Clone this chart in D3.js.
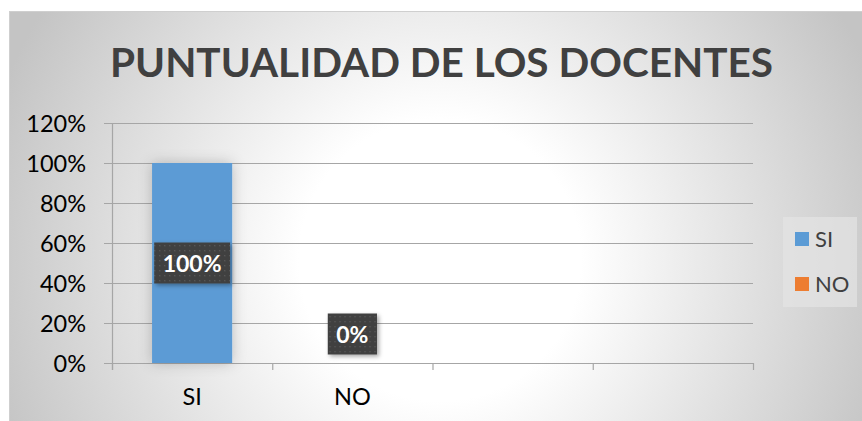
<!DOCTYPE html>
<html>
<head>
<meta charset="utf-8">
<script src="https://cdn.jsdelivr.net/npm/d3@7"></script>
<style>
  body { margin: 0; background: #fff; }
  svg { display: block; font-family: Lato, "Open Sans", sans-serif; }
</style>
</head>
<body>
<div id="chart"></div>
<script>
// chart data
var categories = ["SI", "NO", "", ""];
var values = [1, 0, null, null];
var legendNames = ["SI", "NO"];
var legendColors = ["#5b9bd5", "#ed7d31"];
var yTicks = [0, 0.2, 0.4, 0.6, 0.8, 1.0, 1.2];
var title = "PUNTUALIDAD DE LOS DOCENTES";

function init() {
    var w = 862;
    var h = 421;
    var plot = { left: 112, right: 753, top: 123, bottom: 363 };

    var svg = d3.select("#chart")
                .append("svg")
                .attr("width", w)
                .attr("height", h);

    var defs = svg.append("defs");

    // radial background like the office preset
    var grad = defs.append("radialGradient")
                   .attr("id", "bg")
                   .attr("gradientUnits", "userSpaceOnUse")
                   .attr("cx", 440).attr("cy", 260)
                   .attr("r", 470);
    grad.append("stop").attr("offset", "0").attr("stop-color", "#ffffff");
    grad.append("stop").attr("offset", "0.3").attr("stop-color", "#ffffff");
    grad.append("stop").attr("offset", "1").attr("stop-color", "#c4c4c4");

    // dotted pattern for the data label boxes
    var pat = defs.append("pattern")
                  .attr("id", "dots")
                  .attr("patternUnits", "userSpaceOnUse")
                  .attr("width", 5).attr("height", 5);
    pat.append("rect").attr("width", 5).attr("height", 5).attr("fill", "#404040");
    pat.append("rect").attr("x", 2).attr("y", 2).attr("width", 1.3).attr("height", 1.3).attr("fill", "#5a5a5a");

    var sh = defs.append("filter").attr("id", "shadow")
                 .attr("x", "-50%").attr("y", "-50%").attr("width", "200%").attr("height", "200%");
    sh.append("feDropShadow").attr("dx", 0).attr("dy", 0)
      .attr("stdDeviation", 7).attr("flood-color", "#000").attr("flood-opacity", 0.22);

    var lsh = defs.append("filter").attr("id", "lshadow")
                  .attr("x", "-30%").attr("y", "-30%").attr("width", "160%").attr("height", "160%");
    lsh.append("feDropShadow").attr("dx", 2).attr("dy", 2)
       .attr("stdDeviation", 2).attr("flood-color", "#000").attr("flood-opacity", 0.35);

    // chart area
    svg.append("rect")
       .attr("x", 9.5).attr("y", 11.5)
       .attr("width", w).attr("height", h)
       .attr("fill", "url(#bg)")
       .attr("stroke", "#cfcfcf");

    // title, sized to fit the reference width
    var t = svg.append("text")
               .attr("x", 441.5)
               .attr("y", 77)
               .attr("text-anchor", "middle")
               .attr("font-weight", "bold")
               .attr("font-size", 42)
               .attr("fill", "#404040")
               .text(title);
    var tw = t.node().getComputedTextLength();
    t.attr("font-size", 42 * 663 / tw);

    var xScale = d3.scaleBand()
                   .domain(d3.range(categories.length))
                   .range([plot.left, plot.right])
                   .paddingInner(0.5)
                   .paddingOuter(0.25);

    var yScale = d3.scaleLinear()
                   .domain([0, 1.2])
                   .range([plot.bottom, plot.top]);

    // gridlines
    svg.append("g")
       .selectAll("line")
       .data(yTicks)
       .enter()
       .append("line")
       .attr("x1", plot.left - 8)
       .attr("x2", plot.right)
       .attr("y1", function(d) { return yScale(d) + 0.5; })
       .attr("y2", function(d) { return yScale(d) + 0.5; })
       .attr("stroke", "#a6a6a6")
       .attr("stroke-width", 1.2);

    // y axis line
    svg.append("line")
       .attr("x1", plot.left + 0.5).attr("x2", plot.left + 0.5)
       .attr("y1", plot.top).attr("y2", plot.bottom + 7)
       .attr("stroke", "#a6a6a6").attr("stroke-width", 1.2);

    // category ticks on the x axis
    var edges = d3.range(categories.length + 1).map(function(i) {
        return plot.left + i * (plot.right - plot.left) / categories.length;
    });
    svg.append("g")
       .selectAll("line")
       .data(edges)
       .enter()
       .append("line")
       .attr("x1", function(d) { return d + 0.5; })
       .attr("x2", function(d) { return d + 0.5; })
       .attr("y1", plot.bottom)
       .attr("y2", plot.bottom + 7)
       .attr("stroke", "#a6a6a6").attr("stroke-width", 1.2);

    // y tick labels
    svg.append("g")
       .selectAll("text")
       .data(yTicks)
       .enter()
       .append("text")
       .attr("x", 86)
       .attr("y", function(d) { return yScale(d) + 8.5; })
       .attr("text-anchor", "end")
       .attr("font-size", 23.5)
       .attr("fill", "#000")
       .text(d3.format(".0%"));

    // x labels
    svg.append("g")
       .selectAll("text")
       .data(categories)
       .enter()
       .append("text")
       .attr("x", function(d, i) { return xScale(i) + xScale.bandwidth() / 2; })
       .attr("y", 405)
       .attr("text-anchor", "middle")
       .attr("font-size", 23.5)
       .attr("fill", "#000")
       .text(function(d) { return d; });

    // bars
    var pts = values.map(function(v, i) { return { v: v, i: i }; })
                    .filter(function(d) { return d.v !== null; });

    svg.append("g")
       .selectAll("rect")
       .data(pts.filter(function(d) { return d.v > 0; }))
       .enter()
       .append("rect")
       .attr("x", function(d) { return xScale(d.i); })
       .attr("y", function(d) { return yScale(d.v); })
       .attr("width", xScale.bandwidth())
       .attr("height", function(d) { return yScale(0) - yScale(d.v); })
       .attr("fill", function(d) { return legendColors[d.i]; })
       .attr("filter", "url(#shadow)");

    // data labels
    var lab = svg.append("g")
                 .selectAll("g")
                 .data(pts)
                 .enter()
                 .append("g")
                 .attr("transform", function(d) {
                     var cx = xScale(d.i) + xScale.bandwidth() / 2;
                     var cy = Math.min(yScale(d.v / 2), yScale(0) - 29);
                     return "translate(" + cx + "," + cy + ")";
                 });

    lab.append("text")
       .attr("text-anchor", "middle")
       .attr("y", 8.5)
       .attr("font-size", 23)
       .attr("font-weight", "bold")
       .attr("fill", "#fff")
       .text(function(d) { return d3.format(".0%")(d.v); });

    lab.each(function() {
        var g = d3.select(this);
        var bw = Math.min(g.select("text").node().getComputedTextLength() + 17, 77);
        g.insert("rect", "text")
         .attr("x", -bw / 2)
         .attr("y", -20.5)
         .attr("width", bw)
         .attr("height", 41)
         .attr("fill", "url(#dots)")
         .attr("filter", "url(#lshadow)");
    });

    // legend
    var leg = svg.append("g");
    leg.append("rect")
       .attr("x", 783).attr("y", 217)
       .attr("width", 74).attr("height", 90)
       .attr("fill", "#e4e4e4")
       .attr("opacity", 0.7);

    var item = leg.selectAll("g")
                  .data(legendNames)
                  .enter()
                  .append("g")
                  .attr("transform", function(d, i) { return "translate(795," + (232 + i * 45) + ")"; });
    item.append("rect")
        .attr("width", 14).attr("height", 14)
        .attr("fill", function(d, i) { return legendColors[i]; });
    item.append("text")
        .attr("x", 20).attr("y", 14.5)
        .attr("font-size", 22)
        .attr("fill", "#404040")
        .text(function(d) { return d; });
}

window.onload = init;
</script>
</body>
</html>
